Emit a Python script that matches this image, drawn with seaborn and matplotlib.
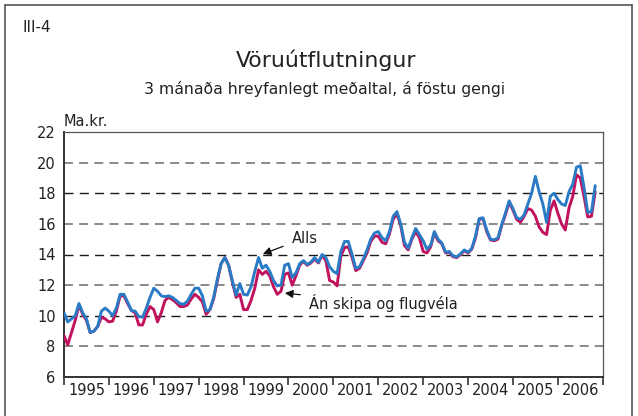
import numpy as np
import pandas as pd
import matplotlib
matplotlib.use("Agg")
import matplotlib.pyplot as plt
import seaborn as sns
from matplotlib.lines import Line2D

# ---------------- data (monthly, Jan 1995 - Nov 2006) ----------------
alls = [
    10.2, 9.6, 9.8, 10.0, 10.8, 10.2, 9.8, 8.9, 9.0, 9.3, 10.3, 10.5,
    10.3, 10.0, 10.5, 11.4, 11.4, 10.9, 10.35, 10.3, 9.95, 9.9, 10.5, 11.2,
    11.8, 11.6, 11.3, 11.25, 11.3, 11.2, 11.0, 10.8, 10.75, 10.95, 11.4, 11.8,
    11.8, 11.3, 10.3, 10.4, 11.2, 12.4, 13.4, 13.8, 13.3, 12.3, 11.35, 12.1,
    11.4, 11.35, 11.9, 12.9, 13.8, 13.1, 13.3, 12.9, 12.3, 11.95, 12.0, 13.3,
    13.4, 12.5, 12.8, 13.4, 13.6, 13.35, 13.5, 13.8, 13.5, 14.0, 13.8, 13.2,
    12.9, 12.75, 14.2, 14.85, 14.85, 14.0, 13.1, 13.2, 13.7, 14.3, 15.0, 15.4,
    15.5, 15.1, 14.9, 15.5, 16.5, 16.8, 16.0, 14.8, 14.4, 15.1, 15.7, 15.3,
    14.9, 14.35, 14.6, 15.5, 15.0, 14.75, 14.15, 14.2, 13.9, 13.85, 14.05, 14.3,
    14.15, 14.4, 15.2, 16.35, 16.4, 15.6, 15.0, 14.95, 15.1, 15.95, 16.7, 17.5,
    17.0, 16.4, 16.3, 16.6, 17.3, 18.0, 19.1, 18.1, 17.3, 16.1, 17.8, 18.0,
    17.6, 17.3, 17.2, 18.1, 18.6, 19.7, 19.8, 18.4, 16.75, 16.8, 18.5,
]
an_skipa = [
    8.7, 8.1, 8.9, 9.7, 10.7, 10.1, 9.7, 8.9, 9.0, 9.3, 9.9, 9.8,
    9.6, 9.65, 10.3, 11.3, 11.3, 10.8, 10.35, 10.2, 9.4, 9.4, 10.1, 10.6,
    10.4, 9.6, 10.2, 11.0, 11.2, 11.05, 10.85, 10.6, 10.6, 10.7, 11.1, 11.4,
    11.2, 10.9, 10.1, 10.4, 11.1, 12.3, 13.4, 13.8, 13.3, 12.2, 11.2, 11.4,
    10.4, 10.4, 11.0, 11.8, 13.0, 12.7, 12.9, 12.6, 11.9, 11.4, 11.6, 12.7,
    12.8, 12.0, 12.6, 13.3, 13.55, 13.3, 13.45, 13.7, 13.45, 13.95, 13.6, 12.3,
    12.2, 11.95, 13.9, 14.45, 14.5, 13.8, 12.95, 13.1, 13.6, 14.1, 14.85, 15.2,
    15.2, 14.8, 14.7, 15.35, 16.3, 16.65, 15.9, 14.6, 14.3, 15.0, 15.5, 15.1,
    14.2, 14.1, 14.5, 15.4, 14.9, 14.7, 14.1, 14.15, 13.85, 13.8, 14.0, 14.25,
    14.1, 14.35, 15.1, 16.3, 16.35, 15.5, 14.95, 14.9, 15.0, 15.9, 16.6, 17.4,
    16.9, 16.3, 16.1, 16.5, 17.0, 16.9, 16.5, 15.8, 15.45, 15.3, 16.9, 17.5,
    16.7, 16.0, 15.6, 17.05, 17.8, 19.2, 19.0, 17.8, 16.45, 16.5, 18.1,
]
years = list(range(1995, 2007))
year_labels = [str(y) for y in years]
y_ticks = [6, 8, 10, 12, 14, 16, 18, 20, 22]

series_names = ["Án skipa og flugvéla", "Alls"]
colors = {"Án skipa og flugvéla": "#c2125d", "Alls": "#2a7bc6"}

n = len(alls)
t = 1995 + np.arange(n) / 12.0
df = pd.concat([
    pd.DataFrame({"t": t, "value": an_skipa, "series": series_names[0]}),
    pd.DataFrame({"t": t, "value": alls, "series": series_names[1]}),
], ignore_index=True)

# ---------------- figure ----------------
sns.set_theme(style="white")
plt.rcParams["font.family"] = ["DejaVu Sans"]

fig = plt.figure(figsize=(6.38, 4.16), dpi=100)
ax = fig.add_axes([64 / 638, 1 - 377 / 416, (602.7 - 64) / 638, (377 - 132) / 416])

# gridlines
for v in [8, 10, 12, 14, 16, 18, 20]:
    col = "#1a1a1a" if v in (10, 14, 18) else "#8a8a8a"
    lw = 1.0 if v in (10, 14, 18) else 1.4
    ax.axhline(v, color=col, lw=lw, dashes=(6.5, 4.5) if lw == 1.0 else (4.6, 3.2), zorder=1)

sns.lineplot(data=df, x="t", y="value", hue="series", palette=colors,
             hue_order=series_names, linewidth=2.1, legend=False, ax=ax,
             zorder=3)

ax.set_xlim(1995, 2007)
ax.set_ylim(6, 22)
ax.set_xlabel("")
ax.set_ylabel("")

ax.set_yticks(y_ticks)
ax.set_yticklabels([str(v) for v in y_ticks], fontsize=10.5, color="#222222")
ax.tick_params(axis="y", length=0, pad=6)

ax.set_xticks(years + [2007])
ax.set_xticklabels([])
ax.set_xticks([y + 0.5 for y in years], minor=True)
ax.set_xticklabels(year_labels, minor=True, fontsize=10.5, color="#222222")
ax.tick_params(axis="x", which="major", length=6, width=1.2, color="#333333", direction="out")
ax.tick_params(axis="x", which="minor", length=0, pad=4)
ax.xaxis.set_ticks_position("bottom")

for s in ["left", "bottom"]:
    ax.spines[s].set_color("#333333")
    ax.spines[s].set_linewidth(1.4)
for s in ["top", "right"]:
    ax.spines[s].set_color("#555555")
    ax.spines[s].set_linewidth(0.9)

# annotations
ax.annotate("Alls", xy=(1999.43, 14.03), xytext=(2000.07, 15.07),
            fontsize=10.5, color="#222222", va="center", ha="left",
            arrowprops=dict(arrowstyle="-|>", color="#111111", lw=0.9,
                            mutation_scale=12, shrinkA=4, shrinkB=0))
ax.annotate("Án skipa og flugvéla", xy=(1999.92, 11.48), xytext=(2000.46, 10.80),
            fontsize=10.5, color="#222222", va="center", ha="left",
            arrowprops=dict(arrowstyle="-|>", color="#111111", lw=0.9,
                            mutation_scale=12, shrinkA=4, shrinkB=0))

# texts outside axes
fig.text(22 / 638, 1 - 27 / 416, "III-4", fontsize=11, color="#222222", va="center", ha="left")
fig.text(326 / 638, 1 - 60 / 416, "Vöruútflutningur", fontsize=15.8, color="#222222",
         va="center", ha="center")
fig.text(325 / 638, 1 - 89 / 416, "3 mánaða hreyfanlegt meðaltal, á föstu gengi",
         fontsize=11.3, color="#222222", va="center", ha="center")
fig.text(64 / 638, 1 - 122 / 416, "Ma.kr.", fontsize=10.5, color="#222222",
         va="center", ha="left")

# outer frame
for xs, ys in [([5, 5], [416, 5]), ([5, 632], [5, 5]), ([632, 632], [5, 416])]:
    fig.add_artist(Line2D([x / 638 for x in xs], [1 - y / 416 for y in ys],
                          color="#555555", lw=1.2, transform=fig.transFigure))

fig.savefig("out.png", dpi=100)
